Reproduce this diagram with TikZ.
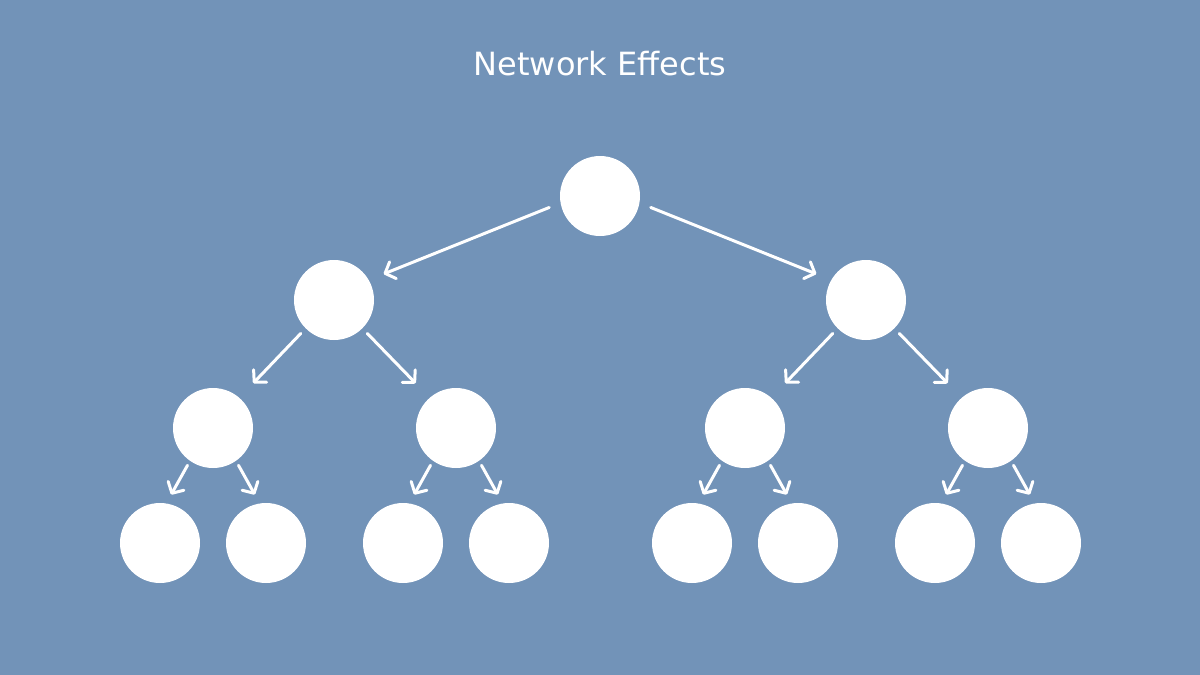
\documentclass[tikz,border=0pt]{standalone}
\usepackage{fontspec}
\setmainfont{DejaVu Sans}
\usetikzlibrary{arrows.meta}
\definecolor{bgblue}{RGB}{114,147,184}
\tikzset{
  dot/.style={circle,fill=white,draw=none,minimum size=80pt,inner sep=0pt},
  link/.style={draw=white,line width=3pt,line cap=round,
    -{Straight Barb[length=8.5pt,width=18pt,line width=3pt,round]}},
  linkA/.style={link,shorten <=12pt,shorten >=16pt},
  linkB/.style={link,shorten <=7pt,shorten >=20pt},
  linkC/.style={link,shorten <=5pt,shorten >=10pt},
}
\begin{document}
\begin{tikzpicture}[x=1pt,y=-1pt]
\fill[bgblue] (0,0) rectangle (1200,675);
\useasboundingbox (0,0) rectangle (1200,675);
\node[text=white,font=\fontsize{32pt}{38pt}\selectfont] (title) at (600,64) {Network Effects};
\node[dot] (r) at (600,196) {};
\node[dot] (l1) at (334,300) {};
\node[dot] (r1) at (866,300) {};
\node[dot] (l2a) at (213,428) {};
\node[dot] (l2b) at (456,428) {};
\node[dot] (r2a) at (745,428) {};
\node[dot] (r2b) at (988,428) {};
\node[dot] (a1) at (160,543) {};
\node[dot] (a2) at (266,543) {};
\node[dot] (b1) at (403,543) {};
\node[dot] (b2) at (509,543) {};
\node[dot] (c1) at (692,543) {};
\node[dot] (c2) at (798,543) {};
\node[dot] (d1) at (935,543) {};
\node[dot] (d2) at (1041,543) {};
\draw[linkA] (r.190) -- (l1.30);
\draw[linkA] (r.350) -- (r1.150);
\draw[linkB] (l1.225) -- (l2a.49);
\draw[linkB] (l1.315) -- (l2b.131);
\draw[linkB] (r1.225) -- (r2a.49);
\draw[linkB] (r1.315) -- (r2b.131);
\draw[linkC] (l2a.235) -- (a1.81);
\draw[linkC] (l2a.305) -- (a2.99);
\draw[linkC] (l2b.235) -- (b1.81);
\draw[linkC] (l2b.305) -- (b2.99);
\draw[linkC] (r2a.235) -- (c1.81);
\draw[linkC] (r2a.305) -- (c2.99);
\draw[linkC] (r2b.235) -- (d1.81);
\draw[linkC] (r2b.305) -- (d2.99);
\end{tikzpicture}
\end{document}
